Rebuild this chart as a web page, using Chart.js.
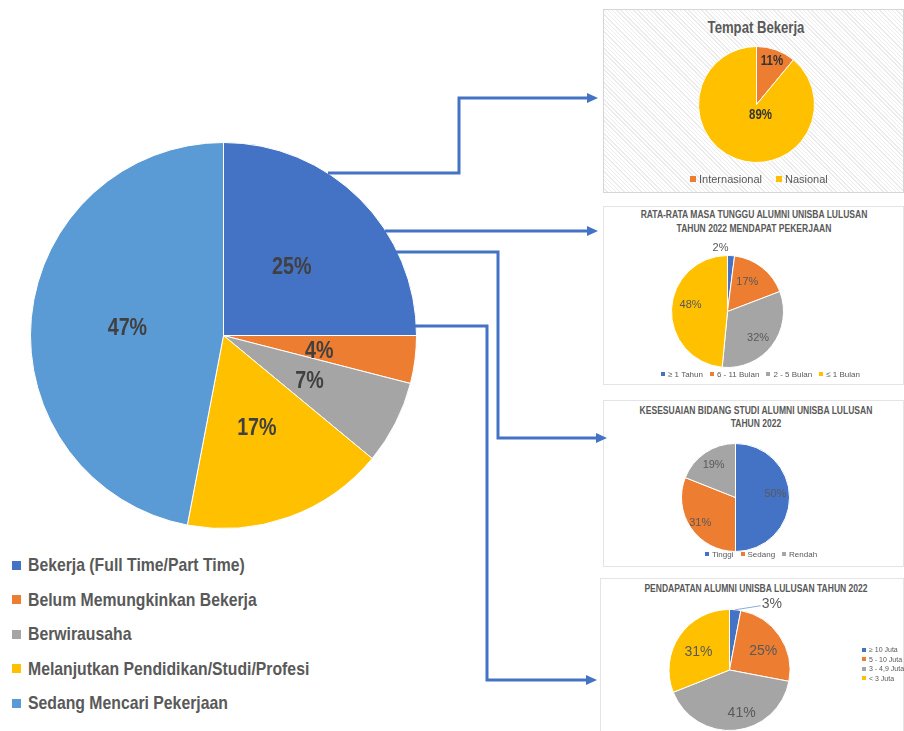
<!DOCTYPE html>
<html>
<head>
<meta charset="utf-8">
<script src="https://cdn.jsdelivr.net/npm/chart.js@4.4.0/dist/chart.umd.min.js"></script>
<style>
  body { margin:0; width:904px; height:731px; overflow:hidden; background:#fff; position:relative;
         font-family:"Liberation Sans", Arial, sans-serif; color:#595959; }
  canvas { position:absolute; }
  .box { position:absolute; box-sizing:border-box; border:1px solid #e4e4e4; background:#fff; }
  #p1 { background:repeating-linear-gradient(45deg, #fff 0 2px, #ececec 2px 3px); border-color:#d6d6d6; }
  .ttl { position:absolute; left:603px; width:306px; text-align:center; font-weight:bold; white-space:nowrap;
         font-family:"Liberation Sans", Arial, sans-serif; color:#595959; transform:scaleX(0.82); transform-origin:center; }
  .leg { position:absolute; display:flex; align-items:center; white-space:nowrap; }
  .leg i { display:inline-block; }
  #mainLegend { position:absolute; left:12px; top:548px; font-family:"Liberation Sans", Arial, sans-serif;
                font-weight:bold; font-size:19px; color:#595959; }
  #mainLegend div { height:34.5px; display:flex; align-items:center; white-space:nowrap; }
  #mainLegend i { display:inline-block; width:9px; height:9px; margin-right:7px; }
  #mainLegend span { display:inline-block; transform:scaleX(0.83); transform-origin:left center; }
</style>
</head>
<body>

<div class="box" id="p1" style="left:603px;top:9px;width:301px;height:184px"></div>
<div class="box" id="p2" style="left:603px;top:206px;width:301px;height:179px"></div>
<div class="box" id="p3" style="left:603px;top:400px;width:301px;height:167px"></div>
<div class="box" id="p4" style="left:600px;top:578px;width:304px;height:170px"></div>

<div class="ttl" style="top:18px;font-size:16px;line-height:20px">Tempat Bekerja</div>
<div class="ttl" style="top:208px;font-size:10.4px;line-height:14px;left:601px">RATA-RATA MASA TUNGGU ALUMNI UNISBA LULUSAN<br>TAHUN 2022 MENDAPAT PEKERJAAN</div>
<div class="ttl" style="top:404px;font-size:10.4px;line-height:13px">KESESUAIAN BIDANG STUDI ALUMNI UNISBA LULUSAN<br>TAHUN 2022</div>
<div class="ttl" style="top:582px;font-size:10.4px;line-height:14px">PENDAPATAN ALUMNI UNISBA LULUSAN TAHUN 2022</div>

<canvas id="cMain"></canvas>
<canvas id="c1"></canvas>
<canvas id="c2"></canvas>
<canvas id="c3"></canvas>
<canvas id="c4"></canvas>

<div id="mainLegend"></div>
<div class="leg" id="l1"></div>
<div class="leg" id="l2"></div>
<div class="leg" id="l3"></div>
<div class="leg" id="l4"></div>

<canvas id="arrows" width="904" height="731" style="left:0;top:0"></canvas>

<script>
// Data

const statusLabels = ['Bekerja (Full Time/Part Time)', 'Belum Memungkinkan Bekerja', 'Berwirausaha',
  'Melanjutkan Pendidikan/Studi/Profesi', 'Sedang Mencari Pekerjaan'];
const statusValues = [25, 4, 7, 17, 47];

const tempatLabels = ['Internasional', 'Nasional'];
const tempatValues = [11, 89];

const tungguLabels = ['≥ 1 Tahun', '6 - 11 Bulan', '2 - 5 Bulan', '≤ 1 Bulan'];
const tungguValues = [2, 17, 32, 48];

const bidangLabels = ['Tinggi', 'Sedang', 'Rendah'];
const bidangValues = [50, 31, 19];

const gajiLabels = ['≥ 10 Juta', '5 - 10 Juta', '3 - 4,9 Juta', '< 3 Juta'];
const gajiValues = [3, 25, 41, 31];

// Colores

const BLUE = '#4472C4', ORANGE = '#ED7D31', GRAY = '#A5A5A5', YELLOW = '#FFC000', LBLUE = '#5B9BD5';
const SANS = '"Liberation Sans", Arial, sans-serif';

// Etiquetas de porcentaje

const sliceLabels = {
  id: 'sliceLabels',
  afterDatasetsDraw(chart, args, opts) {
    const ctx = chart.ctx;
    const values = chart.data.datasets[0].data;
    const sx = opts.sx || 1;
    chart.getDatasetMeta(0).data.forEach((arc, i) => {
      const p = opts.place[i] || [0.6, 0, 0];
      const mid = (arc.startAngle + arc.endAngle) / 2;
      const d = arc.outerRadius * p[0];
      const x = arc.x + Math.cos(mid) * d + p[1];
      const y = arc.y + Math.sin(mid) * d + p[2];
      const txt = values[i] + '%';
      ctx.save();
      ctx.font = opts.font;
      ctx.textAlign = 'center';
      ctx.textBaseline = 'middle';
      if (p[3]) {
        const w = ctx.measureText(txt).width * sx;
        ctx.strokeStyle = '#8eaadb';
        ctx.lineWidth = 1;
        ctx.beginPath();
        ctx.moveTo(arc.x + Math.cos(mid) * arc.outerRadius, arc.y + Math.sin(mid) * arc.outerRadius);
        ctx.lineTo(x - w / 2 - 1, y + 2);
        ctx.stroke();
      }
      ctx.fillStyle = opts.color;
      ctx.translate(x, y);
      ctx.scale(sx, 1);
      ctx.fillText(txt, 0, 0);
      ctx.restore();
    });
  }
};

function pie(id, box, cx, cy, r, labels, values, colors, place, font, color, sx) {
  const cv = document.getElementById(id);
  cv.width = box[2];
  cv.height = box[3];
  cv.style.left = box[0] + 'px';
  cv.style.top = box[1] + 'px';
  const left = cx - r - box[0];
  const top = cy - r - box[1];
  return new Chart(cv, {
    type: 'pie',
    data: {
      labels: labels,
      datasets: [{
        data: values,
        backgroundColor: colors,
        borderColor: '#fff',
        borderWidth: 1,
        hoverOffset: 0
      }]
    },
    options: {
      responsive: false,
      animation: false,
      events: [],
      layout: { padding: { left: left, top: top, right: box[2] - left - 2 * r - 1, bottom: box[3] - top - 2 * r - 1 } },
      plugins: {
        legend: { display: false },
        tooltip: { enabled: false },
        sliceLabels: { place: place, font: font, color: color, sx: sx }
      }
    },
    plugins: [sliceLabels]
  });
}

pie('cMain', [20, 130, 420, 410], 223, 335, 193, statusLabels, statusValues,
  [BLUE, ORANGE, GRAY, YELLOW, LBLUE],
  [[0.5, 0, 0], [0.5, 0, 4], [0.5, 0, 2], [0.51, 0, 0], [0.5, 0, 2]],
  'bold 24px ' + SANS, '#404040', 0.82);

pie('c1', [604, 30, 299, 150], 756, 104, 58, tempatLabels, tempatValues,
  [ORANGE, YELLOW],
  [[0.79, 0, 0], [0.2, 8, 0]],
  'bold 14px ' + SANS, '#333333', 0.82);

pie('c2', [604, 232, 299, 140], 727, 311, 56, tungguLabels, tungguValues,
  [BLUE, ORANGE, GRAY, YELLOW],
  [[1.14, -11, 0], [0.63, -2, -2], [0.73, -2, 2], [0.66, 0, -5]],
  '11px ' + SANS, '#595959', 1);

pie('c3', [604, 435, 299, 122], 735, 497, 54, bidangLabels, bidangValues,
  [BLUE, ORANGE, GRAY],
  [[0.74, 0, -4], [0.79, 0, 1], [0.72, 0, 0]],
  '11px ' + SANS, '#595959', 1);

pie('c4', [604, 592, 299, 139], 729, 670, 61, gajiLabels, gajiValues,
  [BLUE, ORANGE, GRAY, YELLOW],
  [[1.1, 36, 0, true], [0.635, 2, 3], [0.72, 8, 0], [0.62, 0, 3]],
  '14px ' + SANS, '#595959', 1);

// Leyendas

function legend(id, labels, colors, css, sw, gap) {
  const el = document.getElementById(id);
  Object.assign(el.style, css);
  labels.forEach((l, i) => {
    const item = document.createElement('span');
    item.style.display = 'flex';
    item.style.alignItems = 'center';
    item.style.marginRight = gap + 'px';
    item.innerHTML = `<i style="width:${sw}px;height:${sw}px;background:${colors[i]};margin-right:3px"></i>${l}`;
    el.appendChild(item);
  });
}

const ml = document.getElementById('mainLegend');
statusLabels.forEach((l, i) => {
  ml.innerHTML += `<div><i style="background:${[BLUE, ORANGE, GRAY, YELLOW, LBLUE][i]}"></i><span>${l}</span></div>`;
});

legend('l1', tempatLabels, [ORANGE, YELLOW], { left: '690px', top: '172px', fontSize: '11px', height: '14px' }, 6, 14);
legend('l2', tungguLabels, [BLUE, ORANGE, GRAY, YELLOW], { left: '661px', top: '369px', fontSize: '8px', height: '10px' }, 4, 7);
legend('l3', bidangLabels, [BLUE, ORANGE, GRAY], { left: '705px', top: '549px', fontSize: '8px', height: '10px' }, 4, 7);
legend('l4', gajiLabels, [BLUE, ORANGE, GRAY, YELLOW],
  { left: '862px', top: '645px', fontSize: '7px', flexDirection: 'column', alignItems: 'flex-start', lineHeight: '9.5px' }, 4, 0);

// Flechas de conexion

const arrowPaths = [
  [[328, 173], [459, 173], [459, 98], [598, 98]],
  [[385, 231], [598, 231]],
  [[395, 252], [498, 252], [498, 438], [607, 438]],
  [[414, 326], [487, 326], [487, 680], [597, 680]]
];

const actx = document.getElementById('arrows').getContext('2d');
actx.strokeStyle = BLUE;
actx.fillStyle = BLUE;
actx.lineWidth = 3;
actx.lineJoin = 'miter';
arrowPaths.forEach(path => {
  const end = path[path.length - 1];
  actx.beginPath();
  path.forEach((p, i) => {
    const x = i === path.length - 1 ? p[0] - 9 : p[0];
    if (i === 0) actx.moveTo(x, p[1]); else actx.lineTo(x, p[1]);
  });
  actx.stroke();
  actx.beginPath();
  actx.moveTo(end[0], end[1]);
  actx.lineTo(end[0] - 11, end[1] - 5);
  actx.lineTo(end[0] - 11, end[1] + 5);
  actx.closePath();
  actx.fill();
});
</script>
</body>
</html>
